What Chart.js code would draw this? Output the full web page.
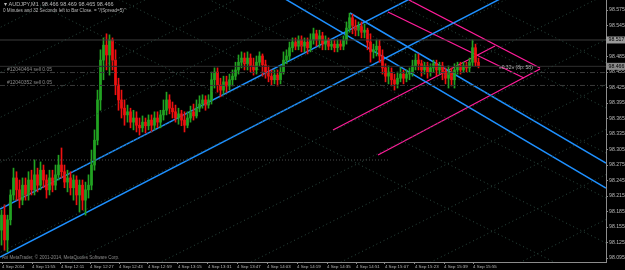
<!DOCTYPE html>
<html>
<head>
<meta charset="utf-8">
<script src="https://cdn.jsdelivr.net/npm/chart.js@4"></script>
<style>
  html, body { margin: 0; padding: 0; background: #000; }
</style>
</head>
<body>
<canvas id="chart" width="625" height="270"></canvas>
<script>
// AUDJPY M1 bars
const opens = [
  98.149,98.178,98.130,98.169,98.217,98.250,98.227,98.207,98.236,98.217,
  98.246,98.227,98.256,98.236,98.265,98.246,98.227,98.250,98.236,98.256,
  98.275,98.262,98.242,98.250,98.231,98.246,98.217,98.236,98.207,98.227,
  98.236,98.275,98.323,98.401,98.478,98.507,98.488,98.517,98.478,98.430,
  98.401,98.385,98.372,98.378,98.358,98.366,98.352,98.347,98.358,98.351,
  98.362,98.352,98.366,98.358,98.372,98.381,98.401,98.385,98.378,98.366,
  98.374,98.362,98.352,98.366,98.378,98.370,98.385,98.393,98.401,98.391,
  98.401,98.440,98.455,98.430,98.420,98.436,98.428,98.440,98.447,98.459,
  98.474,98.482,98.471,98.482,98.467,98.459,98.474,98.486,98.469,98.455,
  98.447,98.440,98.449,98.440,98.455,98.478,98.486,98.502,98.513,98.505,
  98.517,98.505,98.513,98.502,98.517,98.529,98.517,98.525,98.509,98.517,
  98.505,98.509,98.502,98.509,98.505,98.517,98.540,98.560,98.544,98.536,
  98.544,98.532,98.536,98.513,98.494,98.498,98.505,98.486,98.463,98.447,
  98.455,98.440,98.432,98.443,98.451,98.443,98.451,98.455,98.467,98.478,
  98.471,98.459,98.467,98.455,98.463,98.471,98.459,98.467,98.455,98.443,
  98.455,98.440,98.459,98.467,98.459,98.467,98.463,98.474,98.502,98.474
];
const highs = [
  98.188,98.198,98.178,98.227,98.269,98.262,98.246,98.250,98.250,98.262,
  98.265,98.285,98.269,98.281,98.275,98.256,98.265,98.265,98.275,98.294,
  98.308,98.275,98.265,98.262,98.256,98.254,98.246,98.246,98.242,98.256,
  98.304,98.343,98.420,98.498,98.521,98.529,98.527,98.521,98.498,98.443,
  98.420,98.401,98.391,98.385,98.381,98.378,98.366,98.370,98.366,98.372,
  98.372,98.378,98.378,98.381,98.401,98.416,98.411,98.397,98.391,98.385,
  98.381,98.378,98.378,98.389,98.393,98.401,98.409,98.411,98.409,98.411,
  98.455,98.463,98.463,98.443,98.447,98.447,98.451,98.459,98.474,98.488,
  98.494,98.492,98.494,98.490,98.482,98.486,98.494,98.490,98.478,98.467,
  98.459,98.459,98.459,98.467,98.494,98.498,98.513,98.521,98.521,98.525,
  98.525,98.521,98.521,98.529,98.540,98.536,98.536,98.532,98.525,98.521,
  98.517,98.517,98.517,98.517,98.525,98.552,98.569,98.567,98.556,98.552,
  98.552,98.548,98.540,98.529,98.509,98.517,98.517,98.498,98.471,98.467,
  98.463,98.451,98.455,98.463,98.459,98.459,98.463,98.478,98.490,98.490,
  98.478,98.474,98.474,98.471,98.478,98.478,98.474,98.474,98.463,98.467,
  98.463,98.471,98.474,98.474,98.474,98.474,98.482,98.517,98.509,98.482
];
const lows = [
  98.120,98.110,98.107,98.159,98.207,98.207,98.192,98.198,98.207,98.207,
  98.217,98.217,98.223,98.227,98.231,98.211,98.217,98.223,98.227,98.246,
  98.250,98.231,98.223,98.217,98.207,98.198,98.184,98.188,98.178,98.211,
  98.227,98.265,98.314,98.381,98.440,98.459,98.449,98.459,98.411,98.381,
  98.366,98.352,98.358,98.347,98.343,98.339,98.333,98.339,98.337,98.343,
  98.339,98.343,98.347,98.347,98.362,98.372,98.374,98.366,98.358,98.354,
  98.351,98.339,98.347,98.358,98.362,98.366,98.378,98.385,98.381,98.385,
  98.393,98.424,98.416,98.407,98.412,98.416,98.420,98.428,98.440,98.451,
  98.463,98.459,98.459,98.455,98.449,98.451,98.467,98.447,98.443,98.436,
  98.430,98.432,98.428,98.432,98.451,98.471,98.478,98.494,98.498,98.498,
  98.494,98.494,98.490,98.494,98.509,98.505,98.502,98.498,98.498,98.498,
  98.498,98.494,98.494,98.498,98.498,98.509,98.532,98.529,98.525,98.525,
  98.521,98.521,98.498,98.474,98.482,98.486,98.474,98.451,98.436,98.432,
  98.428,98.420,98.424,98.436,98.432,98.436,98.440,98.447,98.459,98.459,
  98.447,98.451,98.443,98.447,98.455,98.447,98.451,98.440,98.432,98.424,
  98.428,98.424,98.451,98.451,98.455,98.455,98.455,98.467,98.467,98.463
];
const closes = [
  98.178,98.130,98.169,98.217,98.250,98.227,98.207,98.236,98.217,98.246,
  98.227,98.256,98.236,98.265,98.246,98.227,98.250,98.236,98.256,98.275,
  98.262,98.242,98.250,98.231,98.246,98.217,98.236,98.207,98.227,98.236,
  98.275,98.323,98.401,98.478,98.507,98.488,98.517,98.478,98.430,98.401,
  98.385,98.372,98.378,98.358,98.366,98.352,98.347,98.358,98.351,98.362,
  98.352,98.366,98.358,98.372,98.381,98.401,98.385,98.378,98.366,98.374,
  98.362,98.352,98.366,98.378,98.370,98.385,98.393,98.401,98.391,98.401,
  98.440,98.455,98.430,98.420,98.436,98.428,98.440,98.447,98.459,98.474,
  98.482,98.471,98.482,98.467,98.459,98.474,98.486,98.469,98.455,98.447,
  98.440,98.449,98.440,98.455,98.478,98.486,98.502,98.513,98.505,98.517,
  98.505,98.513,98.502,98.517,98.529,98.517,98.525,98.509,98.517,98.505,
  98.509,98.502,98.509,98.505,98.517,98.540,98.560,98.544,98.536,98.544,
  98.532,98.536,98.513,98.494,98.498,98.505,98.486,98.463,98.447,98.455,
  98.440,98.432,98.443,98.451,98.443,98.451,98.455,98.467,98.478,98.471,
  98.459,98.467,98.455,98.463,98.471,98.459,98.467,98.455,98.443,98.455,
  98.440,98.459,98.467,98.459,98.467,98.463,98.474,98.502,98.474,98.467
];

// axis ticks
const timeTickPos = [0.2, 10.2, 19.8, 29.5, 39.2, 48.8, 58.8, 68.8, 78.5, 88.5, 98.5, 108.5, 118.2, 127.8, 137.8, 147.5, 157.2];
const timeLabels = ['4 Sep 2014', '4 Sep 11:55', '4 Sep 12:11', '4 Sep 12:27', '4 Sep 12:43', '4 Sep 12:59',
  '4 Sep 13:15', '4 Sep 13:31', '4 Sep 13:47', '4 Sep 14:03', '4 Sep 14:19', '4 Sep 14:35', '4 Sep 14:51',
  '4 Sep 15:07', '4 Sep 15:23', '4 Sep 15:39', '4 Sep 15:55'];
const priceTicks = [98.575, 98.545, 98.515, 98.485, 98.455, 98.425, 98.395, 98.365, 98.335,
  98.305, 98.275, 98.245, 98.215, 98.185, 98.155, 98.125, 98.095];

// drawn objects: [bar1, price1, bar2, price2]
const blueLines = [
  [-0.5, 98.1899, 201.5, 98.7910],
  [-0.5, 98.0970, 201.5, 98.7022],
  [116.17, 98.5692, 201.5, 98.2789],
  [92.83, 98.6023, 201.5, 98.2305]
];
const pinkLines = [
  [128.83, 98.5712, 174.17, 98.4434],
  [135.83, 98.5944, 179.5, 98.4628],
  [110.5, 98.3428, 164.5, 98.5054],
  [125.5, 98.2944, 179.5, 98.4609]
];
const gridUp = [
  [-3.83, 98.5315, 204.83, 99.1373], [-3.83, 98.4444, 204.83, 99.0502],
  [-3.83, 98.3573, 204.83, 98.9631], [-3.83, 98.2702, 204.83, 98.8760],
  [-3.83, 98.1831, 204.83, 98.7889], [-3.83, 98.0960, 204.83, 98.7018],
  [-3.83, 98.0089, 204.83, 98.6147], [-3.83, 97.9218, 204.83, 98.5276],
  [-3.83, 97.8347, 204.83, 98.4405], [-3.83, 97.7476, 204.83, 98.3534],
  [-3.83, 97.6605, 204.83, 98.2663], [-3.83, 97.5734, 204.83, 98.1792]
];
const gridDown = [
  [-3.83, 99.0686, 204.83, 98.4628], [-3.83, 98.9815, 204.83, 98.3757],
  [-3.83, 98.8944, 204.83, 98.2886], [-3.83, 98.8073, 204.83, 98.2015],
  [-3.83, 98.7202, 204.83, 98.1144], [-3.83, 98.6331, 204.83, 98.0273]
];
const hLine = [-0.5, 98.2847, 129.5, 98.2847];
const bidPrice = 98.466;
const markPrice = 98.517;
const orders = [['#12040464 sell 0.05', 98.454], ['#12040352 sell 0.05', 98.429]];

const BULL = '#22a322', BEAR = '#ee1111';
const colors = closes.map((c, i) => c >= opens[i] ? BULL : BEAR);

function seg(l, color, width, dash) {
  return {
    type: 'line',
    data: [{ x: l[0], y: l[1] }, { x: l[2], y: l[3] }],
    borderColor: color, borderWidth: width, borderDash: dash || [],
    pointRadius: 0, tension: 0, fill: false
  };
}

const datasets = [];
gridUp.forEach(l => datasets.push(seg(l, '#2c4a40', 1, [1, 3])));
gridDown.forEach(l => datasets.push(seg(l, '#2c4a40', 1, [1, 3])));
datasets.push(seg(hLine, '#4a4a4a', 1, [1, 2]));
datasets.push(seg([-0.5, markPrice, 201.5, markPrice], '#3c3c3c', 1));
datasets.push(seg([-0.5, bidPrice, 201.5, bidPrice], '#2e2e2e', 1));
orders.forEach(o => datasets.push(seg([-0.5, o[1], 201.5, o[1]], '#3a3a3a', 1, [5, 2, 1, 2])));
datasets.push({
  type: 'bar', data: closes.map((c, i) => ({ x: i, y: [lows[i], highs[i]] })),
  backgroundColor: colors, barThickness: 1, grouped: false, minBarLength: 1
});
datasets.push({
  type: 'bar', data: closes.map((c, i) => ({ x: i, y: [opens[i], c] })),
  backgroundColor: colors, barThickness: 2, grouped: false, minBarLength: 1
});
blueLines.forEach(l => datasets.push(seg(l, '#1e90ff', 1.5)));
pinkLines.forEach(l => datasets.push(seg(l, '#ff1c9a', 1.3)));

const FONT = 'Liberation Sans';

// texts on top of the chart
const labelsPlugin = {
  id: 'labels',
  afterDraw(chart) {
    const ctx = chart.ctx, y = chart.scales.y, x = chart.scales.x;
    ctx.save();
    ctx.textBaseline = 'middle';
    ctx.fillStyle = '#b8b8b8';
    ctx.font = '5.5px "' + FONT + '"';
    ctx.fillText('\u25BE AUDJPY,M1  98.466 98.469 98.465 98.466', 4, 4);
    ctx.font = '4.6px "' + FONT + '"';
    ctx.fillText('0 Minutes and 32 Seconds left to Bar Close. = "/(Spread=5)"', 3, 11);
    ctx.fillStyle = '#8a8a8a';
    ctx.font = '5px "' + FONT + '"';
    orders.forEach(o => ctx.fillText(o[0], 7, y.getPixelForValue(o[1]) - 3));
    ctx.font = '4.5px "' + FONT + '"';
    ctx.fillText('Axi MetaTrader, \u00A9 2001-2014, MetaQuotes Software Corp.', 2, 258);
    ctx.fillStyle = '#b0b0b0';
    ctx.font = '5px "' + FONT + '"';
    ctx.fillText('\u00AB0.32\u00BB (8p: 58)', x.getPixelForValue(165.8), y.getPixelForValue(98.463));
    // price boxes on the axis
    ctx.font = '5.2px "' + FONT + '"';
    [[markPrice, '#9a9a9a'], [bidPrice, '#8a8a8a']].forEach(p => {
      const py = y.getPixelForValue(p[0]);
      ctx.fillStyle = p[1];
      ctx.fillRect(y.left, py - 3.5, 19, 7);
      ctx.fillStyle = '#000';
      ctx.fillText(p[0].toFixed(3), y.left + 2.5, py);
    });
    ctx.restore();
  }
};

new Chart(document.getElementById('chart'), {
  type: 'bar',
  data: { datasets },
  plugins: [labelsPlugin],
  options: {
    responsive: false,
    animation: false,
    layout: { padding: 0 },
    plugins: { legend: { display: false }, tooltip: { enabled: false } },
    scales: {
      x: {
        type: 'linear', min: -0.5, max: 201.5, position: 'bottom', offset: false,
        afterBuildTicks: a => { a.ticks = timeTickPos.map(v => ({ value: v })); },
        afterFit: a => { a.height = 8; },
        border: { color: '#8c8c8c' },
        grid: { drawOnChartArea: false, offset: false, tickLength: 2, color: '#8c8c8c' },
        ticks: {
          color: '#b8b8b8', font: { family: FONT, size: 4.4 }, padding: 0,
          align: 'start', maxRotation: 0, autoSkip: false,
          callback: (v, i) => timeLabels[i]
        }
      },
      y: {
        type: 'linear', position: 'right', min: 98.0873, max: 98.5944,
        afterBuildTicks: a => { a.ticks = priceTicks.map(v => ({ value: v })); },
        afterFit: a => { a.width = 19; a.paddingTop = 0; a.paddingBottom = 0; },
        border: { color: '#8c8c8c' },
        grid: { drawOnChartArea: false, tickLength: 2, color: '#8c8c8c' },
        ticks: {
          color: '#b8b8b8', font: { family: FONT, size: 5.2 }, padding: 1,
          callback: v => v.toFixed(3)
        }
      }
    }
  }
});
</script>
</body>
</html>
